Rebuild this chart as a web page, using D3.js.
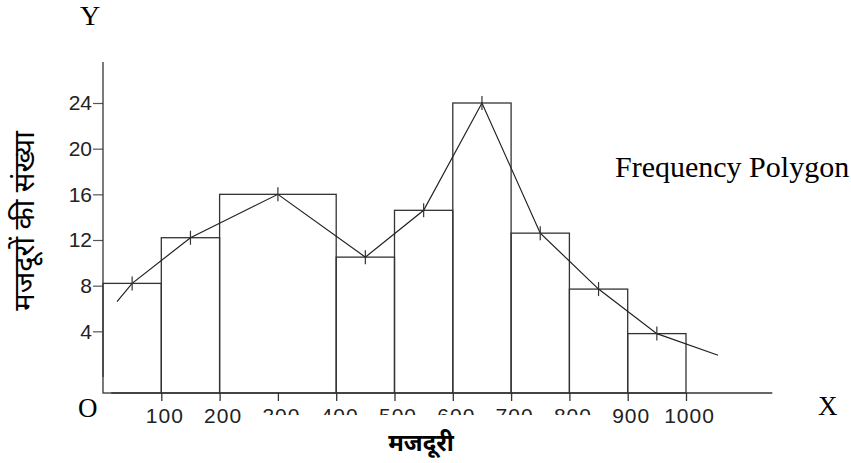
<!DOCTYPE html>
<html>
<head>
<meta charset="utf-8">
<script src="https://cdn.jsdelivr.net/npm/d3@7"></script>
<style>
  body { margin: 0; background: #fff; }
  .serif { font-family: "Liberation Serif", "Times New Roman", serif; }
  .hindi { font-family: "Noto Sans Devanagari", "Lohit Devanagari", "Mangal", "FreeSans", sans-serif; }
</style>
</head>
<body>
<svg id="chart"></svg>
<script>
// wage classes (मजदूरी) and number of workers in each
var classStart = [0, 100, 200, 400, 500, 600, 700, 800, 900];
var classEnd   = [100, 200, 400, 500, 600, 700, 800, 900, 1000];
var frequency  = [8.2, 12.2, 16, 10.5, 14.6, 24, 12.6, 7.7, 3.8];

// loose ends of the polygon, drawn past the first and last midpoints
var polyStart = [24, 6.6];
var polyEnd   = [1055, 1.9];

var xTicks = [100, 200, 300, 400, 500, 600, 700, 800, 900, 1000];
var yTicks = [4, 8, 12, 16, 20, 24];

var width = 851;
var height = 463;
var axisY = 393;

var svg = d3.select('#chart')
  .attr('width', width)
  .attr('height', height);

var x = d3.scaleLinear().domain([0, 1000]).range([103, 686]);
var y = d3.scaleLinear().domain([0, 24]).range([377, 103]);

// bars
svg.selectAll('rect.bar')
  .data(frequency)
  .enter()
  .append('rect')
  .attr('class', 'bar')
  .attr('x', function(d, i) { return x(classStart[i]); })
  .attr('y', function(d) { return y(d); })
  .attr('width', function(d, i) { return x(classEnd[i]) - x(classStart[i]); })
  .attr('height', function(d) { return axisY - y(d); })
  .attr('fill', 'none')
  .attr('stroke', '#333')
  .attr('stroke-width', 1.3);

// y axis
var yAxis = d3.axisLeft(y).tickValues(yTicks).tickSize(10).tickPadding(1);
var gy = svg.append('g')
  .attr('transform', 'translate(' + x(0) + ',0)')
  .call(yAxis);
gy.select('.domain').remove();
gy.append('line')
  .attr('x1', 0).attr('x2', 0)
  .attr('y1', y(0)).attr('y2', y(27.6))
  .attr('stroke', '#333').attr('stroke-width', 1.3);
gy.selectAll('.tick line').attr('stroke', '#555').attr('stroke-width', 1.2);
gy.selectAll('.tick text')
  .attr('fill', '#222')
  .style('font-family', '"Liberation Sans", Arial, sans-serif')
  .style('font-size', '21px');

// x axis
var xAxis = d3.axisBottom(x).tickValues(xTicks).tickSize(8).tickPadding(7)
  .tickFormat(function(d) { return String(d); });
var gx = svg.append('g')
  .attr('transform', 'translate(0,' + axisY + ')')
  .call(xAxis);
gx.select('.domain').remove();
gx.append('line')
  .attr('x1', x(14)).attr('x2', x(1148))
  .attr('y1', 0).attr('y2', 0)
  .attr('stroke', '#333').attr('stroke-width', 1.3);
gx.selectAll('.tick line').attr('stroke', '#333').attr('stroke-width', 1.3);
gx.selectAll('.tick text')
  .attr('fill', '#222')
  .attr('dx', 3)
  .style('font-family', '"Liberation Sans", Arial, sans-serif')
  .style('font-size', '21px')
  .style('letter-spacing', '1px');

// frequency polygon
var pts = [polyStart];
frequency.forEach(function(d, i) {
  pts.push([(classStart[i] + classEnd[i]) / 2, d]);
});
pts.push(polyEnd);

var line = d3.line()
  .x(function(d) { return x(d[0]); })
  .y(function(d) { return y(d[1]); });

svg.append('path')
  .datum(pts)
  .attr('d', line)
  .attr('fill', 'none')
  .attr('stroke', '#222')
  .attr('stroke-width', 1.2);

svg.selectAll('line.mark')
  .data(pts.slice(1, pts.length - 1))
  .enter()
  .append('line')
  .attr('class', 'mark')
  .attr('x1', function(d) { return x(d[0]); })
  .attr('x2', function(d) { return x(d[0]); })
  .attr('y1', function(d) { return y(d[1]) - 7; })
  .attr('y2', function(d) { return y(d[1]) + 7; })
  .attr('stroke', '#333')
  .attr('stroke-width', 1.2);

// title box of the x axis sits over the lower part of some tick labels
svg.append('rect')
  .attr('x', 245).attr('y', 415)
  .attr('width', 360).attr('height', 48)
  .attr('fill', '#fff');

svg.append('text')
  .attr('class', 'hindi')
  .attr('x', 421).attr('y', 451)
  .attr('text-anchor', 'middle')
  .style('font-size', '24px')
  .style('font-weight', 'bold')
  .text('मजदूरी');

svg.append('text')
  .attr('class', 'hindi')
  .attr('transform', 'translate(34,221) rotate(-90)')
  .attr('text-anchor', 'middle')
  .style('font-size', '29px')
  .style('font-weight', 'normal')
  .text('मजदूरों की संख्या');

svg.append('text').attr('class', 'serif')
  .attr('x', 90).attr('y', 25).attr('text-anchor', 'middle')
  .style('font-size', '28px').text('Y');

svg.append('text').attr('class', 'serif')
  .attr('x', 78).attr('y', 417)
  .style('font-size', '27px').text('O');

svg.append('text').attr('class', 'serif')
  .attr('x', 818).attr('y', 415)
  .style('font-size', '27px').text('X');

svg.append('text').attr('class', 'serif')
  .attr('x', 615).attr('y', 177)
  .style('font-size', '30px').text('Frequency Polygon');
</script>
</body>
</html>
